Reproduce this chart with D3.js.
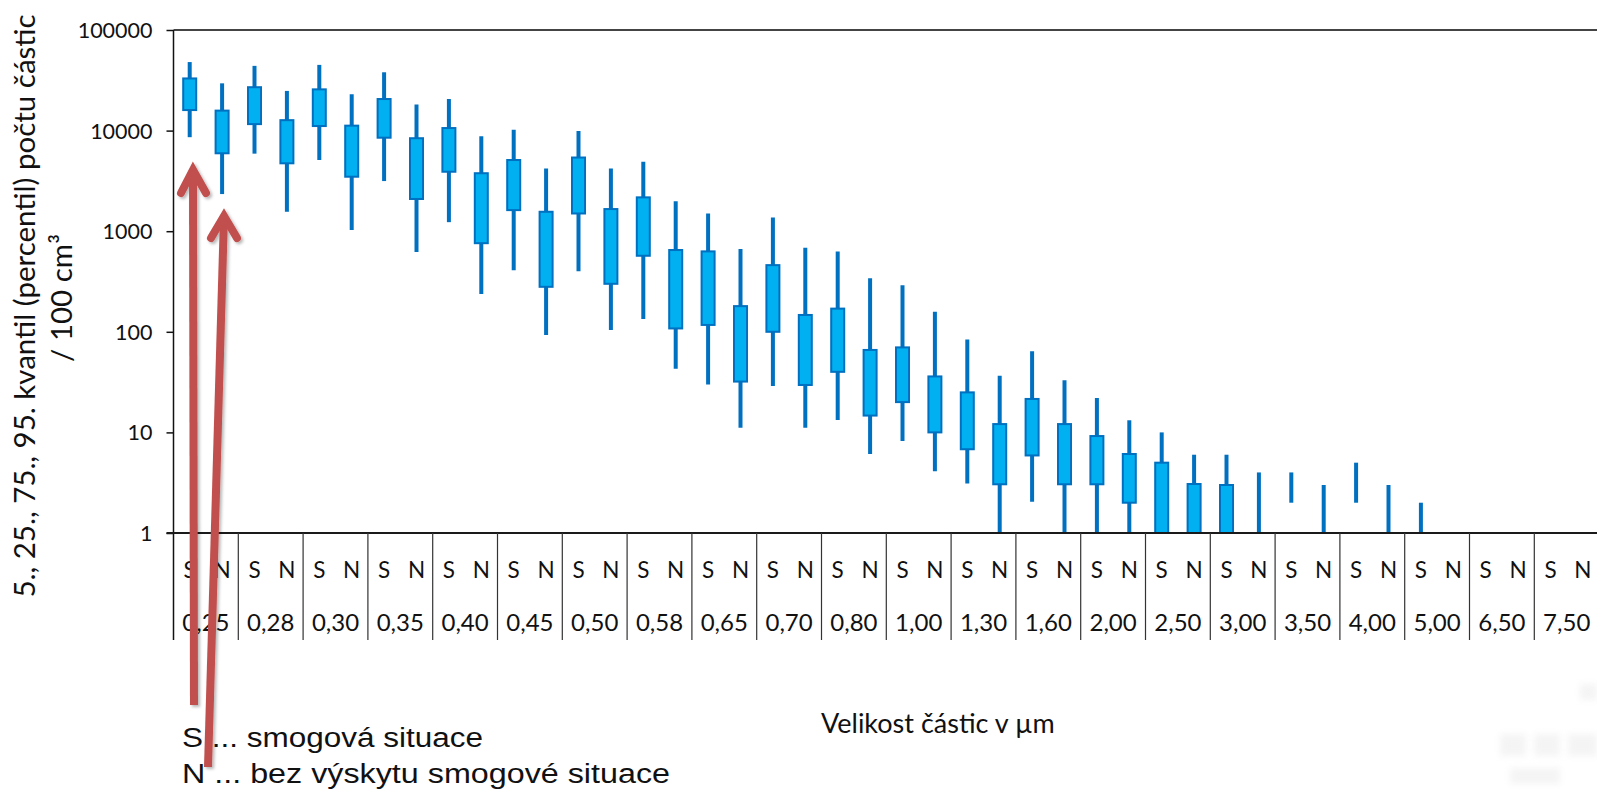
<!DOCTYPE html>
<html>
<head>
<meta charset="utf-8">
<script src="https://cdn.jsdelivr.net/npm/d3@7"></script>
<style>
  html, body { margin: 0; padding: 0; background: #fff; }
  svg { display: block; }
</style>
</head>
<body>
<svg id="chart" width="1597" height="789"></svg>
<script>
// Particle size classes (µm)
const sizes = ["0,25","0,28","0,30","0,35","0,40","0,45","0,50","0,58","0,65","0,70","0,80",
               "1,00","1,30","1,60","2,00","2,50","3,00","3,50","4,00","5,00","6,50","7,50"];

// Situation per size class: S = smog, N = no smog
const situations = ["S", "N"];

// Counts per 100 cm³ — smog situation (S)
const smogP95 = [48000, 44000, 45000, 38000, 20600, 10200, 9900, 4900, 1500, 1370, 630, 290, 84, 64, 22, 10, 6, 4, 5, 2, null, null];
const smogP75 = [33000, 27000, 25700, 20600, 10600, 5100, 5400, 2170, 630, 460, 170, 70, 25, 21.5, 9.2, 5, 3, null, null, null, null, null];
const smogP25 = [16000, 11600, 11100, 8500, 3900, 1620, 1500, 570, 117, 100, 40, 20, 6.8, 5.9, 3.05, 1, 1, null, null, null, null, null];
const smogP5  = [8600, 5900, 5100, 3150, 1230, 410, 400, 134, 30, 29, 13.3, 8.2, 3.1, 2.05, 1, 1, 1, 2, 2, 1, null, null];

// Counts per 100 cm³ — no smog situation (N)
const cleanP95 = [29500, 24800, 23000, 18200, 8800, 4200, 4200, 1980, 665, 685, 340, 158, 36.6, 33, 13.2, 6, 4, 3, 3, null, null, null];
const cleanP75 = [15800, 12700, 11200, 8400, 3770, 1560, 1660, 650, 180, 147, 66, 36, 12.1, 12.1, 6.1, 3.07, null, null, null, null, null, null];
const cleanP25 = [5950, 4730, 3480, 2090, 760, 280, 300, 108, 32, 29.6, 14.7, 10, 3.05, 3.05, 2, 1, null, null, null, null, null, null];
const cleanP5  = [2340, 1560, 1030, 620, 238, 93, 104, 43, 11.1, 11.1, 6.1, 4.1, 1, 1, 1, 1, 1, 1, 1, null, null, null];

// Y axis ticks
const yTicks = [1, 10, 100, 1000, 10000, 100000];

// Text
const yTitleLines = ["5., 25., 75., 95. kvantil (percentil) počtu částic", "/ 100 cm³"];
const xTitle = "Velikost částic v µm";
const legendLines = ["S ... smogová situace", "N ... bez výskytu smogové situace"];

// ---- layout ----
const plotLeft = 173.5, plotTop = 30, plotBottom = 533;
const slotWidth = 32.4;
const plotRight = plotLeft + sizes.length * situations.length * slotWidth;

const svg = d3.select("#chart");
const FONT = "Lato, 'Open Sans', sans-serif";

// one record per box: slot index + its quantiles
const records = [];
sizes.forEach((s, i) => {
  records.push({ slot: i * 2, size: s, sit: "S", p5: smogP5[i], p25: smogP25[i], p75: smogP75[i], p95: smogP95[i] });
  records.push({ slot: i * 2 + 1, size: s, sit: "N", p5: cleanP5[i], p25: cleanP25[i], p75: cleanP75[i], p95: cleanP95[i] });
});

const slotScale = d3.scaleBand()
  .domain(d3.range(sizes.length * situations.length))
  .range([plotLeft, plotRight]);

const groupScale = d3.scaleBand()
  .domain(sizes)
  .range([plotLeft, plotRight]);

const y = d3.scaleLog()
  .domain([1, 100000])
  .range([plotBottom, plotTop]);

// defs: arrow shadow, faint blur
const defs = svg.append("defs");
const sh = defs.append("filter").attr("id", "arrowShadow")
  .attr("x", "-50%").attr("y", "-10%").attr("width", "200%").attr("height", "120%");
sh.append("feDropShadow").attr("dx", 2).attr("dy", 2).attr("stdDeviation", 1.6)
  .attr("flood-color", "#000").attr("flood-opacity", 0.28);
defs.append("filter").attr("id", "soft")
  .append("feGaussianBlur").attr("stdDeviation", 3);

// top frame line
svg.append("line")
  .attr("x1", plotLeft).attr("x2", plotRight)
  .attr("y1", plotTop).attr("y2", plotTop)
  .attr("stroke", "#444").attr("stroke-width", 2);

// ---- whiskers (5th–95th) ----
const col = slotScale.bandwidth();
svg.append("g").selectAll("line")
  .data(records.filter(d => d.p5 != null && d.p95 != null))
  .join("line")
  .attr("x1", d => slotScale(d.slot) + col / 2)
  .attr("x2", d => slotScale(d.slot) + col / 2)
  .attr("y1", d => y(d.p95))
  .attr("y2", d => y(d.p5))
  .attr("stroke", "#0070C0")
  .attr("stroke-width", 4);

// ---- boxes (25th–75th) ----
const boxW = 13;
svg.append("g").selectAll("rect")
  .data(records.filter(d => d.p25 != null && d.p75 != null))
  .join("rect")
  .attr("x", d => slotScale(d.slot) + col / 2 - boxW / 2)
  .attr("y", d => y(d.p75))
  .attr("width", boxW)
  .attr("height", d => y(d.p25) - y(d.p75))
  .attr("fill", "#00B0F0")
  .attr("stroke", "#0070C0")
  .attr("stroke-width", 2);

// ---- Y axis ----
const yAxis = svg.append("g")
  .attr("transform", `translate(${plotLeft},0)`)
  .call(d3.axisLeft(y).tickValues(yTicks).tickFormat(d3.format("d")).tickSize(7).tickPadding(14));
yAxis.select(".domain").remove();
yAxis.selectAll(".tick line").attr("stroke", "#111").attr("stroke-width", 1.5);
yAxis.selectAll(".tick text")
  .attr("font-family", FONT).attr("font-size", 21.5).attr("fill", "#111")
  .attr("dy", "0.35em");

// left axis line (down through the category rows)
const catBottom = 640;
svg.append("line")
  .attr("x1", plotLeft).attr("x2", plotLeft)
  .attr("y1", plotTop).attr("y2", catBottom)
  .attr("stroke", "#111").attr("stroke-width", 1.5);

// bottom axis line
svg.append("line")
  .attr("x1", plotLeft - 7).attr("x2", plotRight)
  .attr("y1", plotBottom).attr("y2", plotBottom)
  .attr("stroke", "#1a1a1a").attr("stroke-width", 2.2);

// ---- category axis: S / N row ----
const sitAxis = svg.append("g")
  .attr("transform", `translate(0,${plotBottom})`)
  .call(d3.axisBottom(slotScale).tickSize(0).tickPadding(0).tickFormat(i => situations[i % 2]));
sitAxis.select(".domain").remove();
sitAxis.selectAll(".tick text")
  .attr("font-family", FONT).attr("font-size", 22.5).attr("fill", "#111")
  .attr("y", 45).attr("dy", 0);

// ---- category axis: size row ----
const sizeAxis = svg.append("g")
  .attr("transform", `translate(0,${plotBottom})`)
  .call(d3.axisBottom(groupScale).tickSize(0).tickPadding(0));
sizeAxis.select(".domain").remove();
sizeAxis.selectAll(".tick text")
  .attr("font-family", FONT).attr("font-size", 24).attr("fill", "#111")
  .attr("y", 98).attr("dy", 0);

// group separators
svg.append("g").selectAll("line")
  .data(sizes.slice(1).concat([null]))
  .join("line")
  .attr("x1", d => d == null ? plotRight : groupScale(d))
  .attr("x2", d => d == null ? plotRight : groupScale(d))
  .attr("y1", plotBottom)
  .attr("y2", catBottom)
  .attr("stroke", "#333").attr("stroke-width", 1.2);

// ---- axis titles ----
const yTitle = svg.append("g").attr("font-family", FONT).attr("font-size", 29.5).attr("fill", "#111");
yTitle.append("text")
  .attr("transform", "translate(35,306) rotate(-90)")
  .attr("text-anchor", "middle")
  .text(yTitleLines[0]);
yTitle.append("text")
  .attr("transform", "translate(72,298) rotate(-90)")
  .attr("text-anchor", "middle")
  .text(yTitleLines[1]);

svg.append("text")
  .attr("x", 821).attr("y", 733)
  .attr("font-family", FONT).attr("font-size", 27).attr("fill", "#111")
  .text(xTitle);

// ---- legend notes ----
const legend = svg.append("g")
  .attr("font-family", "'Liberation Sans', Arial, sans-serif")
  .attr("font-size", 27).attr("fill", "#111");
const legendWidths = [301, 488];
legendLines.forEach((t, i) => {
  legend.append("text")
    .attr("x", 182).attr("y", 747 + i * 36)
    .attr("textLength", legendWidths[i])
    .attr("lengthAdjust", "spacingAndGlyphs")
    .text(t);
});

// faint mark in the corner
const faint = svg.append("g").attr("filter", "url(#soft)").attr("fill", "#d0d0d0").attr("opacity", 0.22);
faint.append("rect").attr("x", 1580).attr("y", 684).attr("width", 17).attr("height", 16);
faint.append("rect").attr("x", 1500).attr("y", 734).attr("width", 26).attr("height", 22);
faint.append("rect").attr("x", 1534).attr("y", 734).attr("width", 26).attr("height", 22);
faint.append("rect").attr("x", 1568).attr("y", 734).attr("width", 29).attr("height", 22);
faint.append("rect").attr("x", 1510).attr("y", 768).attr("width", 50).attr("height", 16);

// ---- red arrows pointing at the first S and N columns ----
const arrows = [
  { shaft: [[194, 705], [193, 170]], head: [[181, 193], [193, 170], [206, 193]] },
  { shaft: [[208, 767], [224, 216]], head: [[211, 238], [224, 216], [237, 238]] }
];
const line = d3.line();
const ag = svg.append("g").attr("filter", "url(#arrowShadow)")
  .attr("fill", "none").attr("stroke", "#C0504D").attr("stroke-width", 8);
arrows.forEach(a => {
  ag.append("path").attr("d", line(a.shaft)).attr("stroke-linecap", "butt");
  ag.append("path").attr("d", line(a.head))
    .attr("stroke-linecap", "round").attr("stroke-linejoin", "miter");
});
</script>
</body>
</html>
